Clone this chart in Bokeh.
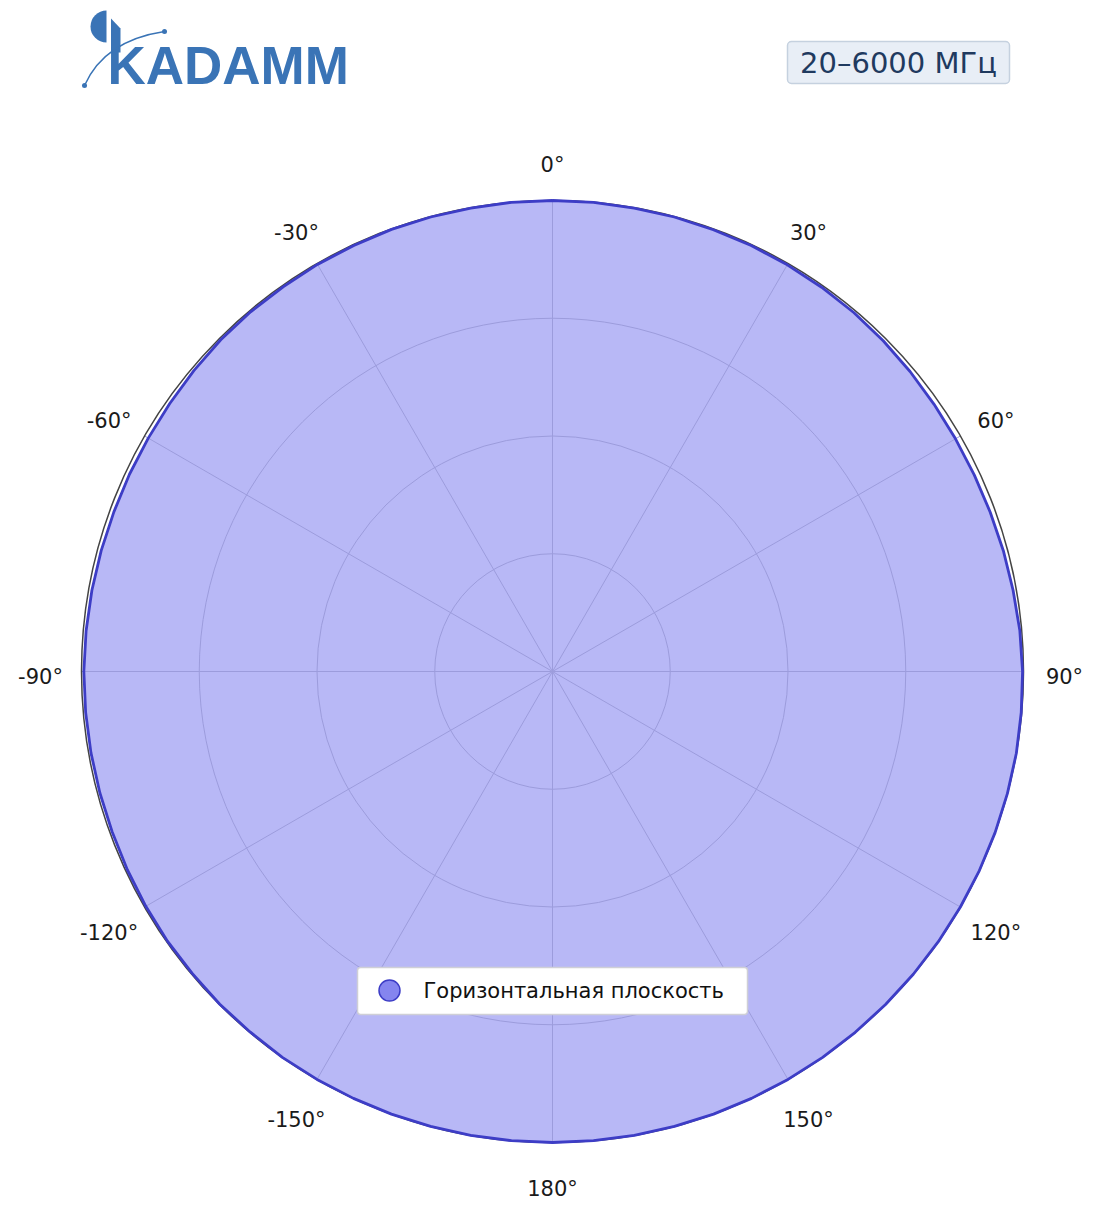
import numpy as np
from bokeh.plotting import figure
from bokeh.models import Range1d
from bokeh.embed import file_html
from bokeh.resources import INLINE
from bokeh.core.properties import value

# ---------------- data ----------------
angles_deg = [0, 5, 10, 15, 20, 25, 30, 35, 40, 45, 50, 55, 60, 65, 70, 75, 80, 85,
              90, 95, 100, 105, 110, 115, 120, 125, 130, 135, 140, 145, 150, 155, 160, 165,
              170, 175, 180, -175, -170, -165, -160, -155, -150, -145, -140, -135, -130,
              -125, -120, -115, -110, -105, -100, -95, -90, -85, -80, -75, -70, -65, -60,
              -55, -50, -45, -40, -35, -30, -25, -20, -15, -10, -5]
r_values = [1.000, 1.000, 0.999, 0.999, 0.998, 0.998, 0.997, 0.996, 0.995, 0.993, 0.991,
            0.989, 0.988, 0.988, 0.989, 0.991, 0.993, 0.996, 0.998, 0.999, 1.000, 1.000,
            1.000, 1.000, 1.000, 1.000, 1.000, 1.000, 1.000, 1.000, 1.000, 1.000, 1.000,
            1.000, 1.000, 1.000, 1.000, 1.000, 1.000, 1.000, 1.000, 1.000, 1.000, 1.000,
            0.999, 0.999, 0.998, 0.998, 0.997, 0.996, 0.995, 0.995, 0.995, 0.995, 0.995,
            0.994, 0.993, 0.992, 0.991, 0.991, 0.991, 0.992, 0.994, 0.996, 0.997, 0.997,
            0.998, 0.998, 0.999, 0.999, 0.999, 1.000]
series_name = "Горизонтальная плоскость"
theta_ticks = [0, 30, 60, 90, 120, 150, 180, 210, 240, 270, 300, 330]
theta_tick_labels = ["0°", "30°", "60°", "90°", "120°", "150°", "180°",
                     "-150°", "-120°", "-90°", "-60°", "-30°"]
radial_ticks = [0.25, 0.5, 0.75]
radial_max = 1.0
freq_label = "20–6000 МГц"
logo_text = "KADAMM"

# ---------------- layout ----------------
W, H = 1096, 1205
R_PX = 471.0
CX, CY = 552, 671


def pg(x, y):
    """page pixel -> data coords"""
    return ((x - CX) / R_PX, (CY - y) / R_PX)


p = figure(width=W, height=H, output_backend="svg", toolbar_location=None,
           x_range=Range1d(-CX / R_PX, (W - CX) / R_PX),
           y_range=Range1d(-(H - CY) / R_PX, CY / R_PX),
           min_border=0, outline_line_color=None)
p.axis.visible = False
p.grid.visible = False
p.background_fill_color = "white"
p.border_fill_color = "white"

# polar data -> cartesian (0 at top, clockwise)
th = np.radians(np.array(angles_deg, dtype=float))
rv = np.array(r_values)
xs = list(rv * np.sin(th)) + [rv[0] * np.sin(th[0])]
ys = list(rv * np.cos(th)) + [rv[0] * np.cos(th[0])]

# fill
p.patch(xs, ys, fill_color="#b8b8f6", line_color=None)

# grid: circles and spokes
grid_col = "#9c9cdc"
p.circle(x=[0] * len(radial_ticks), y=[0] * len(radial_ticks), radius=radial_ticks,
         fill_color=None, line_color=grid_col, line_width=1)
tt = np.radians(np.array(theta_ticks, dtype=float))
p.multi_line([[0, radial_max * np.sin(a)] for a in tt],
             [[0, radial_max * np.cos(a)] for a in tt],
             line_color=grid_col, line_width=1)

# outer boundary
p.circle(x=[0], y=[0], radius=[radial_max], fill_color=None, line_color="#444444", line_width=1.5)

# data line
p.line(xs, ys, line_color="#3d3dc6", line_width=2.8)

# angle labels
lab_r = 512 / R_PX
p.text(x=list(lab_r * np.sin(tt)), y=list(lab_r * np.cos(tt)), text=theta_tick_labels,
       text_font=value("DejaVu Sans"), text_font_size=value("21px"), text_color="#1a1a1a",
       text_align="center", text_baseline="middle", y_offset=5)

# legend (drawn)
l0, t0 = pg(357, 967)
l1, t1 = pg(747, 1014)
p.quad(left=[l0], right=[l1], top=[t0], bottom=[t1], fill_color="white",
       line_color="#cfcfd6", line_width=1.5, border_radius=3)
mx, my = pg(389, 990)
p.scatter(x=[mx], y=[my], marker="circle", size=21, fill_color="#8585ef",
          line_color="#3d3dc6", line_width=1.5)
tx, ty = pg(423, 990)
p.text(x=[tx], y=[ty], text=[series_name], text_font=value("DejaVu Sans"),
       text_font_size=value("21px"), text_color="#111111", text_align="left",
       text_baseline="middle")

# frequency badge
b0x, b0y = pg(787, 41)
b1x, b1y = pg(1009, 83)
p.quad(left=[b0x], right=[b1x], top=[b0y], bottom=[b1y], fill_color="#e8eef6",
       line_color="#c5d1df", line_width=1.5, border_radius=4)
fx, fy = pg(898, 62)
p.text(x=[fx], y=[fy], text=[freq_label], text_font=value("DejaVu Sans"),
       text_font_size=value("29px"), text_color="#1f3a5f", text_align="center",
       text_baseline="middle")

# logo
logo_col = "#3a74b6"
hx, hy = pg(106, 26)
p.wedge(x=[hx], y=[hy], radius=16 / R_PX, start_angle=np.pi / 2, end_angle=3 * np.pi / 2,
        fill_color=logo_col, line_color=None)
stem = [pg(110.5, 18), pg(120, 28), pg(120, 52), pg(110.5, 52)]
p.patch([s[0] for s in stem], [s[1] for s in stem], fill_color=logo_col, line_color=None)
lx, ly = pg(107, 64.5)
p.text(x=[lx], y=[ly], text=[logo_text], text_font=value("Liberation Sans"),
       text_font_size=value("53px"), text_font_style="bold", text_color=logo_col,
       text_align="left", text_baseline="middle")
a0 = pg(84, 85)
a1 = pg(164, 31)
ac = pg(104, 40)
p.quadratic(x0=[a0[0]], y0=[a0[1]], x1=[a1[0]], y1=[a1[1]], cx=[ac[0]], cy=[ac[1]],
            line_color=logo_col, line_width=1.5)
p.scatter(x=[a0[0], a1[0]], y=[a0[1], a1[1]], marker="circle", size=5,
          fill_color=logo_col, line_color=None)

open("out.html", "w").write(file_html(p, INLINE))
